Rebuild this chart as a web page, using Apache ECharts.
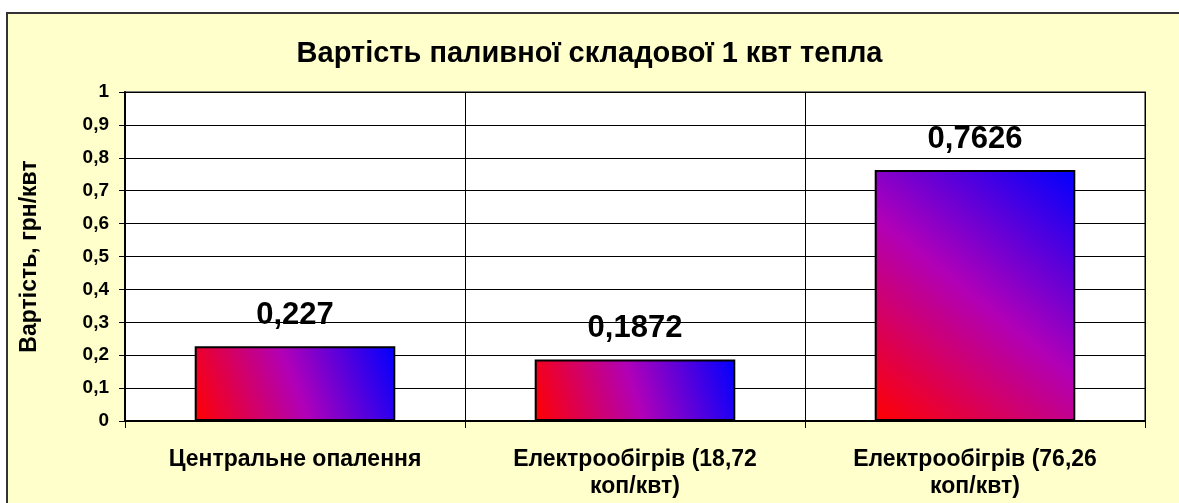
<!DOCTYPE html>
<html>
<head>
<meta charset="utf-8">
<script src="https://cdn.jsdelivr.net/npm/echarts@6/dist/echarts.min.js"></script>
<style>
html,body{margin:0;padding:0;background:#fff;}
#c{width:1179px;height:503px;}
</style>
</head>
<body>
<div id="c"></div>
<script>
const categories = ['Центральне опалення', 'Електрообігрів (18,72 коп/квт)', 'Електрообігрів (76,26 коп/квт)'];
const values = [0.227, 0.1872, 0.7626];
const valueLabels = ['0,227', '0,1872', '0,7626'];
const titleText = 'Вартість паливної складової 1 квт тепла';
const yAxisName = 'Вартість, грн/квт';

const font = '"Liberation Sans", Arial, sans-serif';
const chart = echarts.init(document.getElementById('c'));
chart.setOption({
  backgroundColor: '#ffffff',
  animation: false,
  graphic: [{
    type: 'rect', z: -10, silent: true,
    shape: { x: 7, y: 13, width: 1300, height: 600 },
    style: { fill: '#FFFFCC', stroke: '#333333', lineWidth: 2 }
  }],
  title: {
    text: titleText, left: 'center', top: 34,
    textStyle: { fontFamily: font, fontSize: 29, fontWeight: 'bold', color: '#000' }
  },
  grid: {
    left: 125, top: 92, right: 34, bottom: 82,
    show: true, backgroundColor: '#ffffff', borderColor: '#808080', borderWidth: 2
  },
  xAxis: {
    type: 'category', data: categories,
    axisLine: { lineStyle: { color: '#000', width: 2 } },
    axisTick: { show: true, length: 7, lineStyle: { color: '#000' } },
    splitLine: { show: true, lineStyle: { color: '#000', width: 1 } },
    axisLabel: {
      interval: 0, hideOverlap: false,
      fontFamily: font, fontSize: 23, fontWeight: 'bold', color: '#000',
      lineHeight: 27, margin: 25,
      formatter: v => v.replace(' коп', '\nкоп')
    }
  },
  yAxis: {
    type: 'value', min: 0, max: 1, interval: 0.1,
    name: yAxisName, nameLocation: 'middle', nameGap: 84,
    nameTextStyle: { fontFamily: font, fontSize: 23, fontWeight: 'bold', color: '#000' },
    axisLine: { show: true, lineStyle: { color: '#000', width: 2 } },
    axisTick: { show: true, length: 6, lineStyle: { color: '#000' } },
    splitLine: { show: true, lineStyle: { color: '#000', width: 1 } },
    axisLabel: {
      fontFamily: font, fontSize: 19, fontWeight: 'bold', color: '#000', margin: 16,
      formatter: v => String(Math.round(v * 10) / 10).replace('.', ',')
    }
  },
  series: [{
    type: 'bar', data: values, barCategoryGap: '41%',
    itemStyle: {
      borderColor: '#000', borderWidth: 2,
      color: new echarts.graphic.LinearGradient(0, 1, 1, 0, [
        { offset: 0, color: '#FF0000' },
        { offset: 0.5, color: '#B000B8' },
        { offset: 1, color: '#0000FF' }
      ])
    },
    label: {
      show: true, position: 'top', distance: 15,
      fontFamily: font, fontSize: 31, fontWeight: 'bold', color: '#000',
      formatter: p => valueLabels[p.dataIndex]
    }
  }]
});
</script>
</body>
</html>
